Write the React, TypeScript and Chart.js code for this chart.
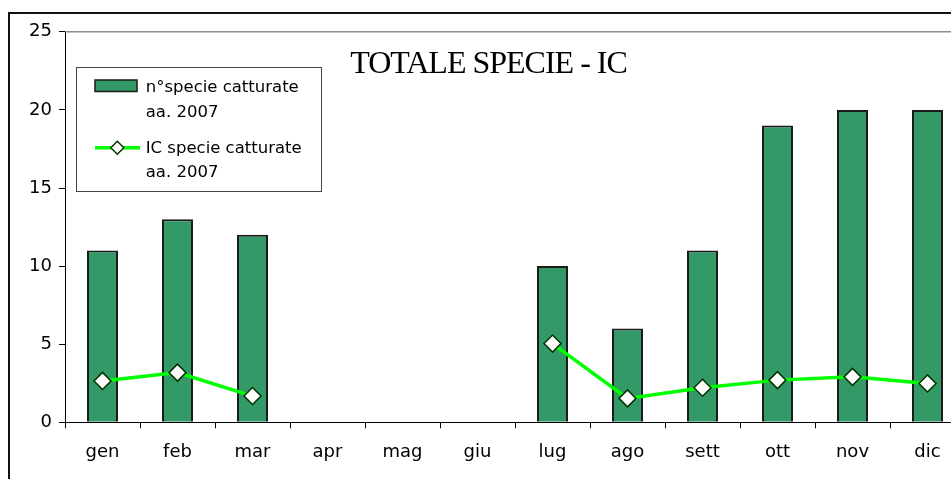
import React, { useEffect, useRef } from 'react';
import { Chart, registerables } from 'chart.js';

Chart.register(...registerables);

const categories = ['gen', 'feb', 'mar', 'apr', 'mag', 'giu', 'lug', 'ago', 'sett', 'ott', 'nov', 'dic'];
const speciesCounts = [11, 13, 12, null, null, null, 10, 6, 11, 19, 20, 20];
const icValues = [2.65, 3.18, 1.68, null, null, null, 5.04, 1.53, 2.21, 2.7, 2.91, 2.49];
const yTicks = [0, 5, 10, 15, 20, 25];
const titleText = 'TOTALE SPECIE - IC';
const legendBarLines = ['n°specie catturate', 'aa. 2007'];
const legendLineLines = ['IC specie catturate', 'aa. 2007'];

const BAR_COLOR = '#339966';
const LINE_COLOR = '#00ff00';
const FONT = '"DejaVu Sans", sans-serif';

const overlayPlugin = {
  id: 'overlay',
  afterDraw(chart: any) {
    const ctx = chart.ctx as CanvasRenderingContext2D;
    const area = chart.chartArea;
    ctx.save();
    // plot area top border
    ctx.strokeStyle = '#8c8c8c';
    ctx.lineWidth = 1.5;
    ctx.beginPath();
    ctx.moveTo(area.left, area.top);
    ctx.lineTo(chart.width, area.top);
    ctx.stroke();

    // title
    ctx.fillStyle = '#000';
    ctx.font = '32px "Liberation Serif", serif';
    (ctx as any).letterSpacing = '-1px';
    ctx.textAlign = 'center';
    ctx.textBaseline = 'alphabetic';
    ctx.fillText(titleText, 478.5, 59.3);
    (ctx as any).letterSpacing = '0px';

    // legend box
    ctx.fillStyle = '#fff';
    ctx.fillRect(66.5, 53.5, 245, 124);
    ctx.strokeStyle = '#444';
    ctx.lineWidth = 1;
    ctx.strokeRect(66.5, 53.5, 245, 124);

    // bar swatch
    ctx.fillStyle = BAR_COLOR;
    ctx.fillRect(85, 66, 42, 11.5);
    ctx.strokeStyle = '#1a1a1a';
    ctx.lineWidth = 1.5;
    ctx.strokeRect(85, 66, 42, 11.5);

    // line swatch
    ctx.strokeStyle = LINE_COLOR;
    ctx.lineWidth = 3.5;
    ctx.beginPath();
    ctx.moveTo(85, 133.7);
    ctx.lineTo(130, 133.7);
    ctx.stroke();
    const cx = 107.3, cy = 133.7, r = 6.5;
    ctx.beginPath();
    ctx.moveTo(cx, cy - r);
    ctx.lineTo(cx + r, cy);
    ctx.lineTo(cx, cy + r);
    ctx.lineTo(cx - r, cy);
    ctx.closePath();
    ctx.fillStyle = '#fff';
    ctx.fill();
    ctx.strokeStyle = '#003300';
    ctx.lineWidth = 1.5;
    ctx.stroke();

    // legend text
    ctx.fillStyle = '#000';
    ctx.font = '16.5px ' + FONT;
    ctx.textAlign = 'left';
    ctx.textBaseline = 'alphabetic';
    ctx.fillText(legendBarLines[0], 135.7, 78.3);
    ctx.fillText(legendBarLines[1], 135.7, 102.7);
    ctx.fillText(legendLineLines[0], 135.7, 139.3);
    ctx.fillText(legendLineLines[1], 135.7, 162.7);
    ctx.restore();
  },
};

export default function App() {
  const canvasRef = useRef<HTMLCanvasElement | null>(null);

  useEffect(() => {
    if (!canvasRef.current) return;
    const chart = new Chart(canvasRef.current, {
      type: 'bar',
      data: {
        labels: categories,
        datasets: [
          {
            type: 'line' as const,
            label: 'IC specie catturate aa. 2007',
            data: icValues,
            borderColor: LINE_COLOR,
            borderWidth: 3.5,
            pointStyle: 'rectRot',
            pointRadius: 8.5,
            pointBackgroundColor: '#ffffff',
            pointBorderColor: '#003300',
            pointBorderWidth: 1.5,
            spanGaps: false,
            tension: 0,
            order: 0,
          } as any,
          {
            type: 'bar' as const,
            label: 'n°specie catturate aa. 2007',
            data: speciesCounts,
            backgroundColor: BAR_COLOR,
            borderColor: '#1a1a1a',
            borderWidth: 2,
            categoryPercentage: 1,
            barPercentage: 0.413,
            order: 1,
          } as any,
        ],
      },
      options: {
        responsive: false,
        animation: false,
        layout: { padding: { left: 0, right: 45, top: 16.7, bottom: 0 } },
        plugins: {
          legend: { display: false },
          tooltip: { enabled: false },
          title: { display: false },
        },
        scales: {
          x: {
            grid: {
              display: true,
              drawOnChartArea: false,
              drawTicks: true,
              tickLength: 6,
              color: '#000',
              offset: true,
            },
            border: { display: true, color: '#000', width: 1 },
            ticks: {
              color: '#000',
              font: { family: FONT, size: 18 },
              padding: 13,
              maxRotation: 0,
              autoSkip: false,
            },
            afterFit: (s: any) => {
              s.height = 56.7;
            },
          },
          y: {
            min: 0,
            max: 25,
            afterBuildTicks: (s: any) => {
              s.ticks = yTicks.map((v) => ({ value: v }));
            },
            grid: {
              display: true,
              drawOnChartArea: false,
              drawTicks: true,
              tickLength: 6,
              color: '#000',
            },
            border: { display: true, color: '#000', width: 1 },
            ticks: {
              color: '#000',
              font: { family: FONT, size: 18 },
              padding: 7,
            },
            afterFit: (s: any) => {
              s.width = 55;
            },
          },
        },
      },
      plugins: [overlayPlugin],
    });
    return () => chart.destroy();
  }, []);

  return (
    <div
      style={{
        position: 'fixed',
        left: 8,
        top: 12,
        right: 0,
        bottom: 0,
        overflow: 'hidden',
        borderLeft: '2px solid #111',
        borderTop: '2px solid #111',
        background: '#fff',
      }}
    >
      <canvas ref={canvasRef} width={1000} height={465} style={{ display: 'block', width: 1000, height: 465 }} />
    </div>
  );
}
